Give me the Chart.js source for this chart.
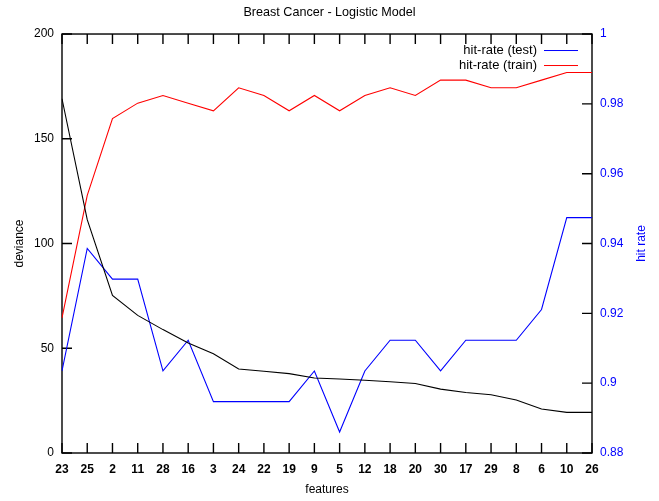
<!DOCTYPE html>
<html>
<head>
<meta charset="utf-8">
<title>Breast Cancer - Logistic Model</title>
<script src="https://cdn.jsdelivr.net/npm/chart.js@4"></script>
<style>
  html, body { margin: 0; padding: 0; background: #fff; }
  canvas { display: block; }
</style>
</head>
<body>
<canvas id="chart" width="659" height="501"></canvas>
<script>
// features in the order they were added to the model
const features = ['23', '25', '2', '11', '28', '16', '3', '24', '22', '19', '9',
                  '5', '12', '18', '20', '30', '17', '29', '8', '6', '10', '26'];

const deviance = [169.1, 111.4, 75.2, 65.7, 58.9, 52.5, 47.4, 40.1, 39.0, 37.9, 35.8,
                  35.3, 34.7, 34.0, 33.2, 30.5, 28.9, 27.8, 25.3, 21.0, 19.4, 19.4];

const hitTest = [0.9035, 0.9386, 0.9298, 0.9298, 0.9035, 0.9123, 0.8947, 0.8947, 0.8947, 0.8947, 0.9035,
                 0.8860, 0.9035, 0.9123, 0.9123, 0.9035, 0.9123, 0.9123, 0.9123, 0.9211, 0.9474, 0.9474];

const hitTrain = [0.9187, 0.9538, 0.9758, 0.9802, 0.9824, 0.9802, 0.9780, 0.9846, 0.9824, 0.9780, 0.9824,
                  0.9780, 0.9824, 0.9846, 0.9824, 0.9868, 0.9868, 0.9846, 0.9846, 0.9868, 0.9890, 0.9890];

const devianceTicks = [0, 50, 100, 150, 200];
const hitRateTicks = [0.88, 0.9, 0.92, 0.94, 0.96, 0.98, 1];

const FONT = 'Liberation Sans, Arial, sans-serif';
const BLUE = '#0000ff';
const RED = '#ff0000';
const TICK = 10;

// gnuplot style frame, inward tick marks, key and right axis label
const framePlugin = {
  id: 'frame',
  beforeDatasetsDraw(chart) {
    const { ctx, chartArea: a, scales } = chart;
    ctx.save();
    ctx.strokeStyle = '#000';
    ctx.lineWidth = 1.4;
    ctx.beginPath();
    scales.x.ticks.forEach((t, i) => {
      const px = scales.x.getPixelForTick(i);
      ctx.moveTo(px, a.bottom); ctx.lineTo(px, a.bottom - TICK);
      ctx.moveTo(px, a.top); ctx.lineTo(px, a.top + TICK);
    });
    devianceTicks.forEach(v => {
      const py = scales.y.getPixelForValue(v);
      ctx.moveTo(a.left, py); ctx.lineTo(a.left + TICK, py);
    });
    hitRateTicks.forEach(v => {
      const py = scales.y1.getPixelForValue(v);
      ctx.moveTo(a.right, py); ctx.lineTo(a.right - TICK, py);
    });
    ctx.stroke();
    ctx.strokeRect(a.left, a.top, a.right - a.left, a.bottom - a.top);
    ctx.restore();
  },
  afterDraw(chart) {
    const { ctx, chartArea: a } = chart;
    ctx.save();
    ctx.font = '13px ' + FONT;
    // key, text right-aligned with the line sample after it
    let y = a.top + 16;
    chart.data.datasets.forEach(ds => {
      if (!ds.label) return;
      ctx.fillStyle = '#000';
      ctx.textAlign = 'right';
      ctx.textBaseline = 'middle';
      ctx.fillText(ds.label, a.right - 55, y);
      ctx.strokeStyle = ds.borderColor;
      ctx.lineWidth = 1;
      ctx.beginPath();
      ctx.moveTo(a.right - 48, y + 0.5);
      ctx.lineTo(a.right - 14, y + 0.5);
      ctx.stroke();
      y += 15;
    });
    // right axis title reads bottom to top like the left one
    ctx.font = '12px ' + FONT;
    ctx.translate(642, (a.top + a.bottom) / 2);
    ctx.rotate(-Math.PI / 2);
    ctx.fillStyle = BLUE;
    ctx.textAlign = 'center';
    ctx.textBaseline = 'middle';
    ctx.fillText('hit rate', 0, 0);
    ctx.restore();
  }
};

new Chart(document.getElementById('chart'), {
  type: 'line',
  data: {
    labels: features,
    datasets: [
      { data: deviance, yAxisID: 'y', borderColor: '#000' },
      { label: 'hit-rate (test)', data: hitTest, yAxisID: 'y1', borderColor: BLUE },
      { label: 'hit-rate (train)', data: hitTrain, yAxisID: 'y1', borderColor: RED }
    ]
  },
  options: {
    responsive: false,
    animation: false,
    devicePixelRatio: 1,
    layout: { padding: 0 },
    elements: {
      line: { borderWidth: 1.1, tension: 0, fill: false },
      point: { radius: 0, hoverRadius: 0 }
    },
    plugins: {
      legend: { display: false },
      tooltip: { enabled: false },
      title: {
        display: true,
        text: 'Breast Cancer - Logistic Model',
        color: '#000',
        font: { family: FONT, size: 12.6, weight: 'normal' },
        padding: { top: 5, bottom: 13.9 }
      }
    },
    scales: {
      x: {
        type: 'category',
        offset: false,
        grid: { display: false, drawTicks: false },
        border: { display: false },
        ticks: {
          color: '#000',
          font: { family: FONT, size: 12, weight: 'bold' },
          padding: 9,
          maxRotation: 0,
          autoSkip: false
        },
        title: {
          display: true,
          text: 'features',
          color: '#000',
          font: { family: FONT, size: 12 },
          padding: { top: 0, bottom: 4 }
        },
        afterFit: s => { s.height = 48; }
      },
      y: {
        position: 'left',
        min: 0,
        max: 200,
        grid: { display: false, drawTicks: false },
        border: { display: false },
        afterBuildTicks: s => { s.ticks = devianceTicks.map(v => ({ value: v })); },
        ticks: {
          color: '#000',
          font: { family: FONT, size: 12 },
          padding: 8
        },
        title: {
          display: true,
          text: 'deviance',
          color: '#000',
          font: { family: FONT, size: 12 },
          padding: { top: 12, bottom: 0 }
        },
        afterFit: s => { s.width = 62; }
      },
      y1: {
        position: 'right',
        min: 0.88,
        max: 1,
        grid: { display: false, drawTicks: false },
        border: { display: false },
        afterBuildTicks: s => { s.ticks = hitRateTicks.map(v => ({ value: v })); },
        ticks: {
          color: BLUE,
          font: { family: FONT, size: 12 },
          padding: 8,
          callback: v => String(+v.toFixed(2))
        },
        afterFit: s => { s.width = 67; }
      }
    }
  },
  plugins: [framePlugin]
});
</script>
</body>
</html>
